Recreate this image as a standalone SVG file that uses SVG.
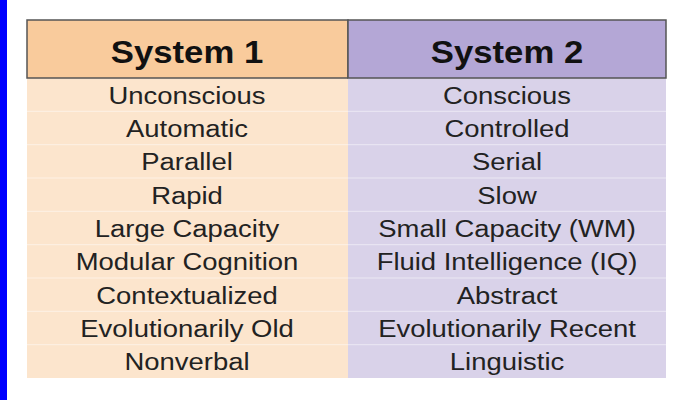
<svg xmlns="http://www.w3.org/2000/svg" width="687" height="400" viewBox="0 0 687 400">
<style>
.h{font-family:"Liberation Sans",Arial,sans-serif;font-size:31px;font-weight:bold;fill:#111;text-anchor:middle}
.t{font-family:"Liberation Sans",Arial,sans-serif;font-size:24.5px;fill:#222;text-anchor:middle}
.sep{stroke:#fff;stroke-opacity:0.5;stroke-width:1}
</style>
<rect width="687" height="400" fill="#fff"/>
<rect x="0" y="0" width="7" height="400" fill="#0000ff"/>
<g id="col1">
<rect x="27" y="78" width="321" height="300" fill="#fce5cd"/>
<rect x="27" y="20" width="321" height="58" fill="#f9cb9c" stroke="#555" stroke-width="1.5"/>
</g>
<g id="col2">
<rect x="348" y="78" width="318" height="300" fill="#d9d2e9"/>
<rect x="348" y="20" width="318" height="58" fill="#b4a7d6" stroke="#555" stroke-width="1.5"/>
</g>
<g id="rows">
<line class="sep" x1="27" x2="666" y1="111.3" y2="111.3"/>
<line class="sep" x1="27" x2="666" y1="144.7" y2="144.7"/>
<line class="sep" x1="27" x2="666" y1="178" y2="178"/>
<line class="sep" x1="27" x2="666" y1="211.3" y2="211.3"/>
<line class="sep" x1="27" x2="666" y1="244.7" y2="244.7"/>
<line class="sep" x1="27" x2="666" y1="278" y2="278"/>
<line class="sep" x1="27" x2="666" y1="311.3" y2="311.3"/>
<line class="sep" x1="27" x2="666" y1="344.7" y2="344.7"/>
</g>
<g id="labels" transform="scale(1.12,1)">
<text class="h" x="167" y="63">System 1</text>
<text class="h" x="452.7" y="63">System 2</text>
<text class="t" x="167" y="104">Unconscious</text><text class="t" x="452.7" y="104">Conscious</text>
<text class="t" x="167" y="137">Automatic</text><text class="t" x="452.7" y="137">Controlled</text>
<text class="t" x="167" y="170">Parallel</text><text class="t" x="452.7" y="170">Serial</text>
<text class="t" x="167" y="204">Rapid</text><text class="t" x="452.7" y="204">Slow</text>
<text class="t" x="167" y="237">Large Capacity</text><text class="t" x="452.7" y="237">Small Capacity (WM)</text>
<text class="t" x="167" y="270">Modular Cognition</text><text class="t" x="452.7" y="270">Fluid Intelligence (IQ)</text>
<text class="t" x="167" y="304">Contextualized</text><text class="t" x="452.7" y="304">Abstract</text>
<text class="t" x="167" y="337">Evolutionarily Old</text><text class="t" x="452.7" y="337">Evolutionarily Recent</text>
<text class="t" x="167" y="370">Nonverbal</text><text class="t" x="452.7" y="370">Linguistic</text>
</g>
</svg>
